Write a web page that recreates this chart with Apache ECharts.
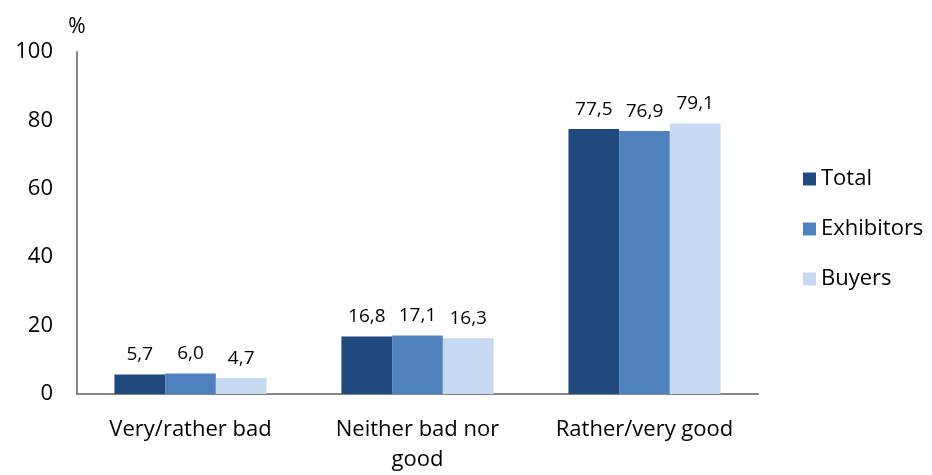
<!DOCTYPE html>
<html>
<head>
<meta charset="utf-8">
<script src="https://cdn.jsdelivr.net/npm/echarts@6/dist/echarts.min.js"></script>
<style>
  html, body { margin: 0; padding: 0; background: #fff; }
  #chart { width: 932px; height: 475px; }
</style>
</head>
<body>
<div id="chart"></div>
<script>
// Survey answers grouped by rating, one bar per respondent group
const categories = ['Very/rather bad', 'Neither bad nor\ngood', 'Rather/very good'];
const totalValues = [5.7, 16.8, 77.5];
const exhibitorValues = [6.0, 17.1, 76.9];
const buyerValues = [4.7, 16.3, 79.1];
const seriesNames = ['Total', 'Exhibitors', 'Buyers'];
const seriesColors = ['#1F497D', '#4F81BD', '#C6D9F1'];

const FONT = '"Open Sans", Lato, sans-serif';

const chart = echarts.init(document.getElementById('chart'), null, { renderer: 'canvas' });

function barSeries(name, data, color) {
  return {
    name: name,
    type: 'bar',
    data: data,
    barGap: '0%',
    barCategoryGap: '33%',
    itemStyle: { color: color },
    label: {
      show: true,
      position: 'top',
      distance: 10,
      color: '#000',
      fontFamily: FONT,
      fontSize: 19,
      formatter: p => p.value.toFixed(1).replace('.', ',')
    }
  };
}

chart.setOption({
  animation: false,
  textStyle: { fontFamily: FONT },
  grid: { left: 77, right: 174, top: 52, bottom: 79, containLabel: false },
  legend: {
    orient: 'vertical',
    left: 803,
    top: 168,
    padding: 0,
    itemWidth: 13,
    itemHeight: 13,
    itemGap: 28,
    icon: 'rect',
    textStyle: { fontFamily: FONT, fontSize: 22, lineHeight: 20, color: '#000' },
    data: seriesNames
  },
  xAxis: {
    type: 'category',
    data: categories,
    axisLine: { lineStyle: { color: '#868686', width: 2 } },
    axisTick: { show: false },
    axisLabel: {
      interval: 0,
      hideOverlap: false,
      color: '#000',
      fontFamily: FONT,
      fontSize: 22,
      margin: 21,
      lineHeight: 30
    }
  },
  yAxis: {
    type: 'value',
    min: 0,
    max: 100,
    interval: 20,
    name: '%',
    nameLocation: 'end',
    nameGap: 14,
    nameTextStyle: { color: '#000', fontFamily: FONT, fontSize: 21, align: 'center' },
    axisLine: { show: true, lineStyle: { color: '#868686', width: 2 } },
    axisTick: { show: false },
    splitLine: { show: false },
    axisLabel: { color: '#000', fontFamily: FONT, fontSize: 22, margin: 24 }
  },
  series: [
    barSeries(seriesNames[0], totalValues, seriesColors[0]),
    barSeries(seriesNames[1], exhibitorValues, seriesColors[1]),
    barSeries(seriesNames[2], buyerValues, seriesColors[2])
  ]
});
</script>
</body>
</html>
